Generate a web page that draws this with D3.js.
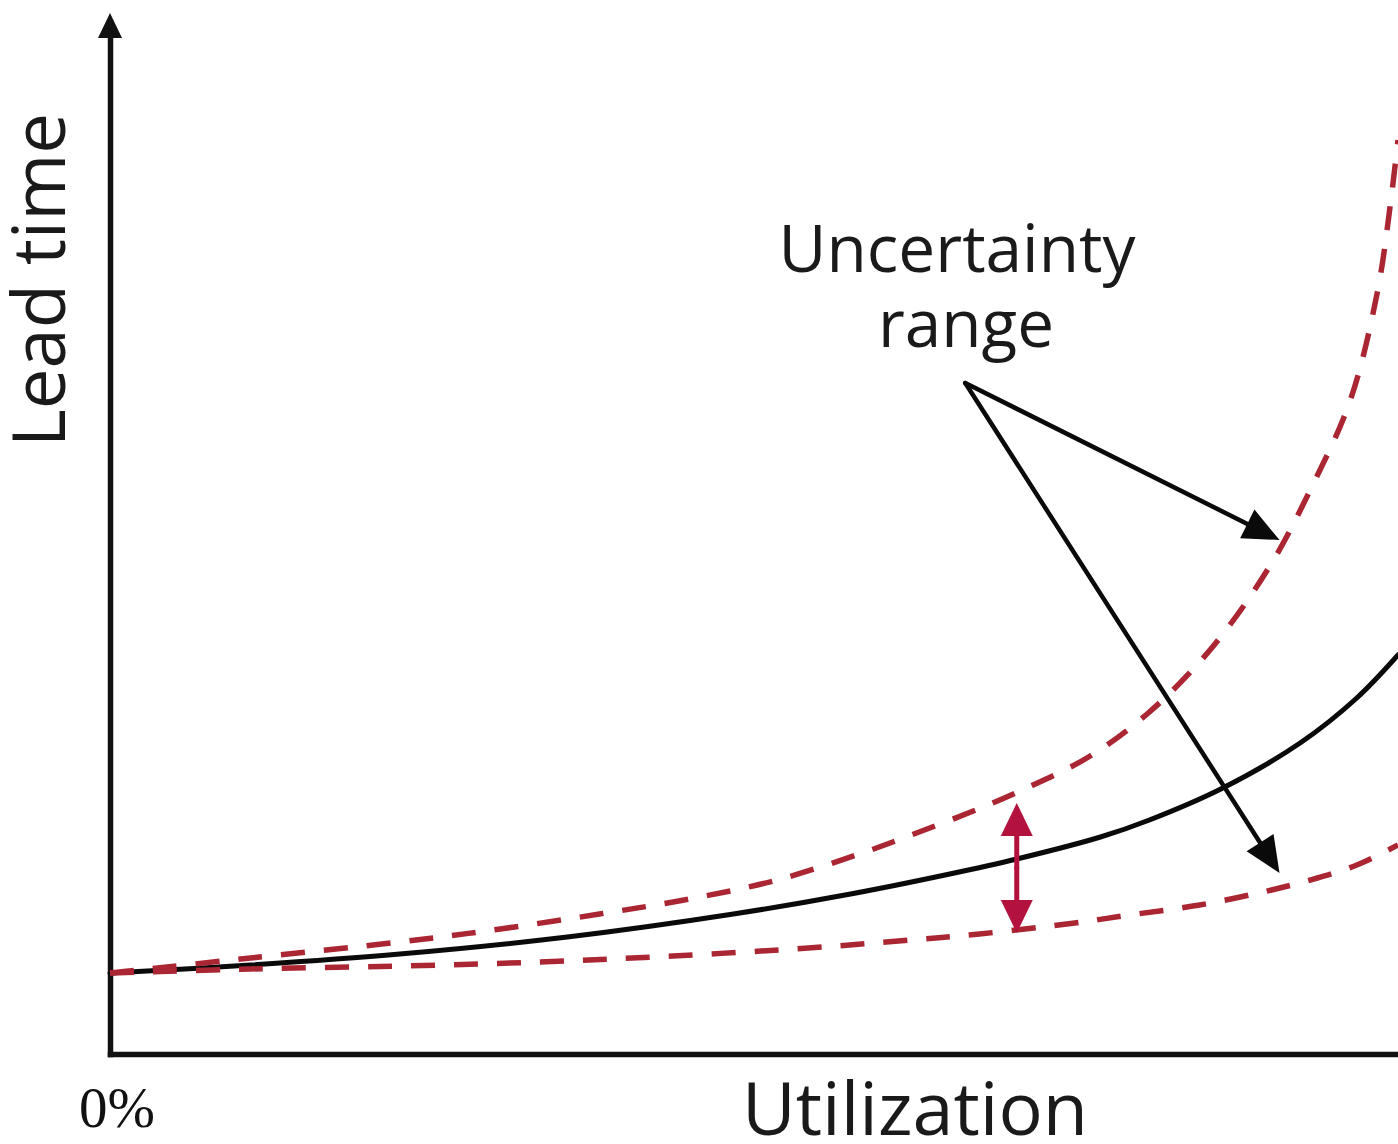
<!DOCTYPE html>
<html>
<head>
<meta charset="utf-8">
<script src="https://cdn.jsdelivr.net/npm/d3@7"></script>
<style>
  html, body { margin: 0; padding: 0; background: #fff; }
  svg { display: block; }
</style>
</head>
<body>
<svg id="chart" width="1398" height="1144"></svg>
<script>
// ---- data (utilization %, lead time in arbitrary units) ----
const meanX  = [0, 10.9, 22.5, 35.5, 48.4, 57.5, 65.2, 70.4, 76.9, 80.7, 86.4, 92.4, 96.8, 100];
const meanY  = [8.1, 8.9, 10.0, 11.7, 14.0, 16.0, 18.0, 19.5, 21.7, 23.4, 26.6, 31.1, 35.6, 39.9];

const upperX = [0, 10.9, 22.5, 30.3, 38.0, 45.0, 51.8, 58.4, 61.6, 67.6, 71.0, 76.1, 80.7, 85.6, 90.1, 93.3, 96.3, 98.4, 99.4, 100];
const upperY = [8.1, 9.6, 11.2, 12.5, 14.0, 15.5, 17.4, 20.1, 21.6, 24.6, 26.5, 29.8, 34.2, 40.7, 48.9, 56.7, 65.4, 76.2, 84.9, 91.4];

const lowerX = [0, 10.9, 22.5, 33.4, 43.7, 54.2, 61.2, 67.5, 74.9, 78.6, 84.6, 89.5, 93.2, 96.8, 100];
const lowerY = [8.1, 8.5, 8.8, 9.2, 9.8, 10.6, 11.3, 12.0, 13.1, 13.8, 14.9, 16.2, 17.4, 18.9, 20.9];

// annotation anchors (data units)
const calloutVertex = [66.4, 67.1];
const calloutTips   = [[90.8, 51.4], [90.8, 18.1]];
const rangeArrowX   = 70.4;
const rangeArrowY   = [25.1, 12.1];

const xLabel = "Utilization";
const yLabel = "Lead time";
const xOriginLabel = "0%";
const calloutLines = ["Uncertainty", "range"];

// ---- layout ----
const svg = d3.select("#chart");
const x = d3.scaleLinear().domain([0, 100]).range([110, 1398]);
const y = d3.scaleLinear().domain([0, 104]).range([1054, 14]);

const RED = "#ab2633";
const ARROW_RED = "#b3123f";
const FONT = "'Open Sans', 'DejaVu Sans', sans-serif";

// axes (domain lines only)
const gx = svg.append("g").attr("transform", `translate(0,${y(0)})`)
  .call(d3.axisBottom(x).ticks(0).tickSizeOuter(0));
const gy = svg.append("g").attr("transform", `translate(${x(0)},0)`)
  .call(d3.axisLeft(y.copy().range([y(0), y(104) + 18])).ticks(0).tickSizeOuter(0));
[gx, gy].forEach(g => g.select(".domain").attr("stroke", "#111").attr("stroke-width", 5.5)
  .attr("stroke-linecap", "square"));
// y-axis arrowhead
svg.append("path")
  .attr("d", `M${x(0)},${y(104) - 1} L${x(0) - 12},${y(104) + 24} L${x(0) + 12},${y(104) + 24} Z`)
  .attr("fill", "#111");

// curves
const line = d3.line().x(d => x(d[0])).y(d => y(d[1])).curve(d3.curveCatmullRom.alpha(0.5));
const zip = (a, b) => a.map((v, i) => [v, b[i]]);

svg.append("path").datum(zip(meanX, meanY))
  .attr("d", line).attr("fill", "none").attr("stroke", "#0a0a0a")
  .attr("stroke-width", 5).attr("stroke-linecap", "round");

[[upperX, upperY], [lowerX, lowerY]].forEach(([xs, ys]) => {
  svg.append("path").datum(zip(xs, ys))
    .attr("d", line).attr("fill", "none").attr("stroke", RED)
    .attr("stroke-width", 5.5).attr("stroke-dasharray", "24,19");
});

// arrow helper
function arrow(x1, y1, x2, y2, color, len, half, width) {
  const dx = x2 - x1, dy = y2 - y1, L = Math.hypot(dx, dy);
  const ux = dx / L, uy = dy / L, px = -uy, py = ux;
  const bx = x2 - ux * len, by = y2 - uy * len;
  svg.append("line").attr("x1", x1).attr("y1", y1)
    .attr("x2", bx + ux * 4).attr("y2", by + uy * 4)
    .attr("stroke", color).attr("stroke-width", width).attr("stroke-linecap", "round");
  svg.append("path")
    .attr("d", `M${x2},${y2} L${bx + px * half},${by + py * half} L${bx - px * half},${by - py * half} Z`)
    .attr("fill", color);
}

// callout arrows
calloutTips.forEach(t => arrow(x(calloutVertex[0]), y(calloutVertex[1]), x(t[0]), y(t[1]), "#0a0a0a", 36, 16, 4.5));

// red double arrow
const ra = x(rangeArrowX), ymid = (y(rangeArrowY[0]) + y(rangeArrowY[1])) / 2;
arrow(ra, ymid, ra, y(rangeArrowY[0]), ARROW_RED, 33, 16, 5);
arrow(ra, ymid, ra, y(rangeArrowY[1]), ARROW_RED, 33, 16, 5);

// text helper: fit text to target width
function fitText(sel, target) {
  const w = sel.node().getBBox().width;
  const fs = parseFloat(sel.attr("font-size"));
  sel.attr("font-size", fs * target / w);
}

const t1 = svg.append("text").text(calloutLines[0])
  .attr("x", 957).attr("y", 272).attr("text-anchor", "middle")
  .attr("font-family", FONT).attr("font-size", 60).attr("fill", "#1a1a1a");
fitText(t1, 358);
const t2 = svg.append("text").text(calloutLines[1])
  .attr("x", 966).attr("y", 347).attr("text-anchor", "middle")
  .attr("font-family", FONT).attr("font-size", 60).attr("fill", "#1a1a1a");
fitText(t2, 176);

const tx = svg.append("text").text(xLabel)
  .attr("x", 915).attr("y", 1135).attr("text-anchor", "middle")
  .attr("font-family", FONT).attr("font-size", 70).attr("fill", "#1a1a1a");
fitText(tx, 346);

const ty = svg.append("text").text(yLabel)
  .attr("transform", "translate(65,280) rotate(-90)").attr("text-anchor", "middle")
  .attr("font-family", FONT).attr("font-size", 70).attr("fill", "#1a1a1a");
fitText(ty, 334);

const t0 = svg.append("text").text(xOriginLabel)
  .attr("x", 79).attr("y", 1127)
  .attr("font-family", "'Liberation Serif', 'DejaVu Serif', serif").attr("font-size", 56).attr("fill", "#111");
fitText(t0, 76);
</script>
</body>
</html>
